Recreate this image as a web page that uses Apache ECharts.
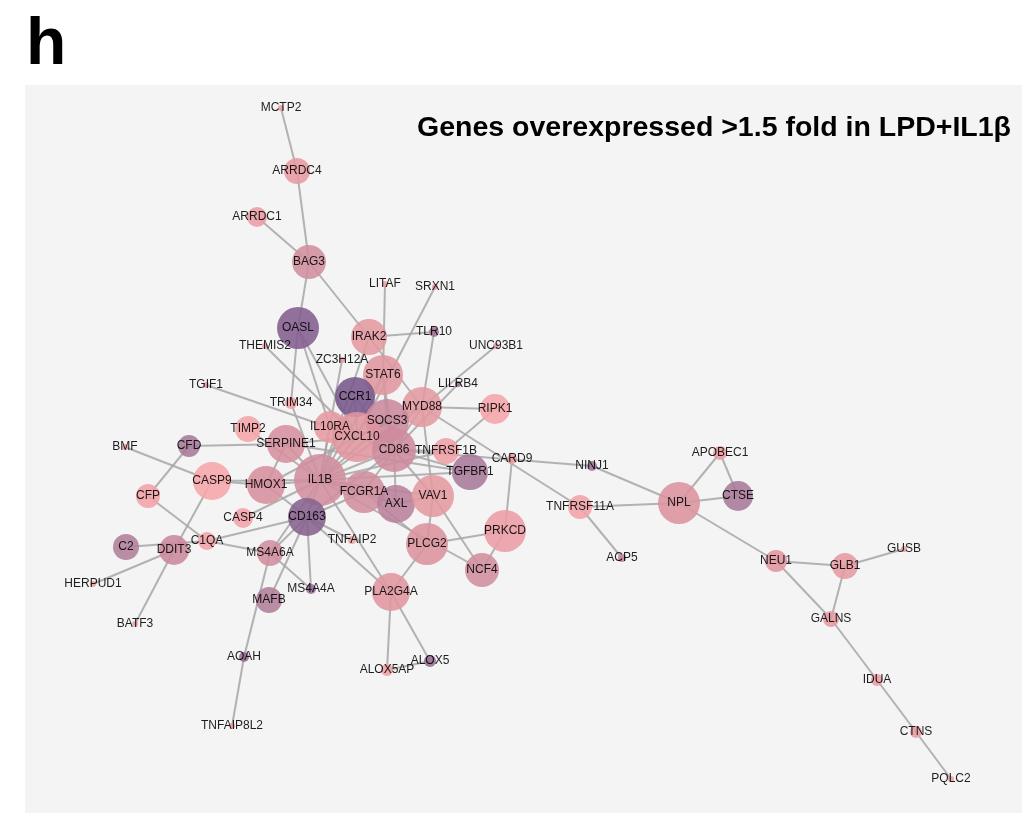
<!DOCTYPE html>
<html>
<head>
<meta charset="utf-8">
<script src="https://cdn.jsdelivr.net/npm/echarts@6/dist/echarts.min.js"></script>
<style>
html,body{margin:0;padding:0;background:#fff;}
#chart{width:1022px;height:816px;}
</style>
</head>
<body>
<div id="chart"></div>
<script>
// Gene nodes: name, layout x, layout y, node weight, expression score (0 = pink, 1 = purple)
var genes   = ['MCTP2','ARRDC4','ARRDC1','BAG3','LITAF','SRXN1','OASL','IRAK2','TLR10','UNC93B1','THEMIS2','ZC3H12A','STAT6','LILRB4','CCR1','MYD88','RIPK1','TGIF1','TRIM34','TIMP2','IL10RA','SOCS3','CXCL10','CD86','TNFRSF1B','CARD9','SERPINE1','CFD','BMF','TGFBR1','NINJ1','APOBEC1','IL1B','HMOX1','CASP9','CFP','FCGR1A','AXL','VAV1','CTSE','NPL','TNFRSF11A','CASP4','CD163','TNFAIP2','PRKCD','PLCG2','C1QA','C2','DDIT3','MS4A6A','NCF4','ACP5','NEU1','GLB1','GUSB','HERPUD1','MS4A4A','PLA2G4A','MAFB','GALNS','BATF3','AOAH','ALOX5','ALOX5AP','IDUA','TNFAIP8L2','CTNS','PQLC2'];
var geneX   = [281,297,257,309,385,435,298,369,434,496,265,342,383,458,355,422,495,206,291,248,330,387,357,394,446,512,286,189,125,470,592,720,320,266,212,148,364,396,433,738,679,580,243,307,352,505,427,207,126,174,270,482,622,776,845,904,93,311,391,269,831,135,244,430,387,877,232,916,951];
var geneY   = [108,171,217,262,284,287,328,337,332,346,346,360,375,384,397,407,409,385,403,429,427,421,437,450,451,459,444,446,447,472,466,453,480,485,481,496,492,504,496,496,503,507,518,517,540,531,544,541,547,550,553,570,558,561,566,549,584,589,592,600,619,624,657,661,670,680,726,732,779];
var geneWeight = [6,26,20,34,6,6,42,36,10,6,6,6,40,6,40,40,30,6,12,26,32,44,50,44,26,10,38,22,6,36,10,14,52,38,38,24,42,38,42,30,42,24,20,38,8,42,42,18,26,30,26,34,8,22,26,6,6,10,38,26,16,6,10,12,12,12,6,12,6];
var geneScore  = [0.15,0.2,0.15,0.45,0.1,0.2,0.95,0.25,0.8,0.2,0.15,0.2,0.3,0.85,1.0,0.25,0.02,0.1,0.1,0.02,0.2,0.55,0.3,0.5,0.08,0.15,0.4,0.75,0.1,0.75,0.8,0.15,0.45,0.4,0.0,0.05,0.45,0.65,0.25,0.75,0.35,0.05,0.05,0.92,0.1,0.15,0.35,0.05,0.7,0.55,0.45,0.45,0.6,0.3,0.2,0.15,0.1,0.85,0.3,0.7,0.2,0.1,0.85,0.85,0.1,0.15,0.1,0.15,0.1];

var interactions = [
 ['MCTP2','ARRDC4'],['ARRDC4','BAG3'],['ARRDC1','BAG3'],['BAG3','OASL'],['BAG3','IRAK2'],
 ['OASL','TRIM34'],['OASL','IL10RA'],['OASL','CXCL10'],['THEMIS2','CXCL10'],['LITAF','STAT6'],
 ['SRXN1','CXCL10'],['IRAK2','TLR10'],['IRAK2','MYD88'],['IRAK2','IL1B'],['TLR10','MYD88'],
 ['UNC93B1','MYD88'],['LILRB4','CD86'],['MYD88','RIPK1'],['MYD88','TNFRSF11A'],['MYD88','VAV1'],
 ['MYD88','SOCS3'],['MYD88','CD86'],['MYD88','IL1B'],['MYD88','CXCL10'],['RIPK1','TNFRSF1B'],
 ['CARD9','PRKCD'],['CD86','NINJ1'],['CD86','TGFBR1'],['NINJ1','NPL'],['TNFRSF11A','NPL'],
 ['TNFRSF11A','ACP5'],['NPL','APOBEC1'],['NPL','CTSE'],['APOBEC1','CTSE'],['NPL','NEU1'],
 ['NEU1','GLB1'],['NEU1','GALNS'],['GLB1','GALNS'],['GLB1','GUSB'],['GALNS','IDUA'],
 ['IDUA','CTNS'],['CTNS','PQLC2'],['PRKCD','PLCG2'],['PRKCD','NCF4'],['VAV1','NCF4'],
 ['VAV1','PLCG2'],['FCGR1A','PLCG2'],['PLCG2','PLA2G4A'],['IL1B','PLA2G4A'],['PLA2G4A','ALOX5AP'],
 ['PLA2G4A','ALOX5'],['ALOX5','ALOX5AP'],['CD163','MS4A4A'],['MS4A6A','MS4A4A'],['MS4A6A','AOAH'],
 ['AOAH','TNFAIP8L2'],['MAFB','CD163'],['MS4A6A','CD163'],['MS4A6A','IL1B'],['C1QA','MS4A6A'],
 ['C1QA','CD163'],['CFP','C1QA'],['C2','C1QA'],['DDIT3','CASP9'],['DDIT3','HERPUD1'],
 ['DDIT3','BATF3'],['CFD','CFP'],['CFD','SERPINE1'],['BMF','CASP9'],['CASP9','HMOX1'],
 ['CASP9','IL1B'],['TIMP2','IL1B'],['TGIF1','CXCL10'],['TRIM34','IL1B'],['ZC3H12A','IL1B'],
 ['CASP4','IL1B'],['TNFAIP2','CD163'],['IL1B','CXCL10'],['IL1B','CD86'],['IL1B','SOCS3'],
 ['IL1B','STAT6'],['IL1B','CCR1'],['IL1B','IL10RA'],['IL1B','FCGR1A'],['IL1B','SERPINE1'],
 ['IL1B','HMOX1'],['IL1B','CD163'],['IL1B','TNFRSF1B'],['IL1B','TGFBR1'],['IL1B','VAV1'],
 ['IL1B','AXL'],['CXCL10','CCR1'],['CXCL10','STAT6'],['CXCL10','SOCS3'],['CXCL10','CD86'],
 ['CXCL10','IL10RA'],['SOCS3','STAT6'],['SOCS3','CD86'],['STAT6','CD86'],['CD86','FCGR1A'],
 ['CD86','CD163'],['CD86','VAV1'],['CD86','AXL'],['CD86','TNFRSF1B'],['FCGR1A','CD163'],
 ['FCGR1A','AXL'],['AXL','VAV1'],['HMOX1','CD163'],['HMOX1','SERPINE1'],['SERPINE1','CXCL10'],
 ['SERPINE1','TGFBR1'],['HMOX1','CXCL10'],['CCR1','CD86'],['IL1B','NCF4'],['CD163','PLA2G4A']
];

var titleText = 'Genes overexpressed >1.5 fold in LPD+IL1\u03b2';
var panelLetter = 'h';

function hex(c){return [parseInt(c.substr(1,2),16),parseInt(c.substr(3,2),16),parseInt(c.substr(5,2),16)];}
function mix(a,b,t){var A=hex(a),B=hex(b);return 'rgb('+A.map(function(v,i){return Math.round(v+(B[i]-v)*t);}).join(',')+')';}
function scoreColor(s){
  var stops=[[0,'#f6a5a8'],[0.3,'#e0959f'],[0.55,'#c9899c'],[0.75,'#a97a99'],[1,'#79578b']];
  for(var i=1;i<stops.length;i++){
    if(s<=stops[i][0]){var t=(s-stops[i-1][0])/(stops[i][0]-stops[i-1][0]);return mix(stops[i-1][1],stops[i][1],t);}
  }
  return stops[stops.length-1][1];
}

var nodes = genes.map(function(g,i){
  return {name:g, value:[geneX[i],geneY[i]], symbolSize:geneWeight[i], itemStyle:{color:scoreColor(geneScore[i]), opacity:0.88}};
});
var links = interactions.map(function(p){return {source:p[0], target:p[1]};});

var chart = echarts.init(document.getElementById('chart'));
chart.setOption({
  backgroundColor:'#ffffff',
  animation:false,
  title:{text:titleText, right:6, top:109, textStyle:{fontFamily:'Liberation Sans, Arial, sans-serif', fontWeight:'bold', fontSize:28.5, color:'#000'}},
  graphic:[
    {type:'rect', z:-100, zlevel:0, silent:true, shape:{x:25,y:85,width:997,height:728}, style:{fill:'#f4f4f4'}},
    {type:'text', left:26, top:13, style:{text:panelLetter, font:'bold 66px "Liberation Sans", Arial, sans-serif', fill:'#000'}}
  ],
  grid:{left:0,right:0,top:0,bottom:0},
  xAxis:{type:'value', min:0, max:1022, show:false},
  yAxis:{type:'value', min:0, max:816, inverse:true, show:false},
  series:[{
    type:'graph',
    coordinateSystem:'cartesian2d',
    z:5,
    data:nodes,
    links:links,
    symbol:'circle',
    label:{show:true, position:'inside', fontSize:12, color:'#000', fontFamily:'Liberation Sans, Arial, sans-serif'},
    lineStyle:{color:'#a6a6a6', width:2, opacity:0.85, curveness:0},
    emphasis:{disabled:true},
    labelLayout:{hideOverlap:false}
  }]
});
</script>
</body>
</html>
